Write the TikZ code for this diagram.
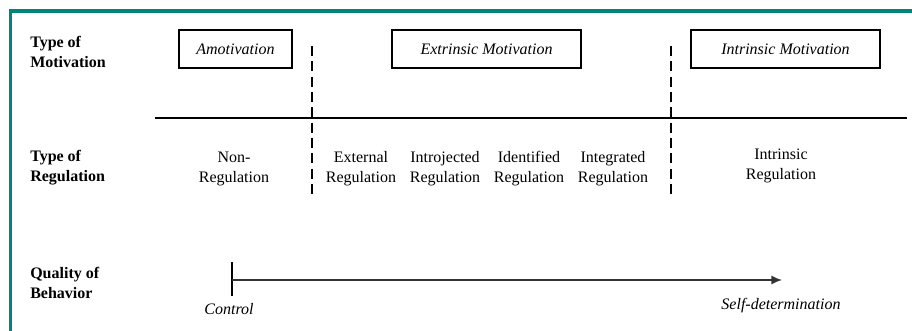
\documentclass[tikz,border=0pt]{standalone}
\usepackage{fontspec}
\setmainfont{Liberation Serif}
\usepackage{xcolor}
\usetikzlibrary{arrows.meta, positioning}

\definecolor{frameteal}{RGB}{0,133,122}

\tikzset{
  rowlabel/.style={anchor=west, align=left, inner sep=0pt, font=\fontsize{12}{15}\selectfont\bfseries},
  motivbox/.style={rectangle, draw=black, line width=1.1pt, minimum height=28.5pt, inner sep=0pt, font=\fontsize{12}{15}\selectfont\itshape},
  reglabel/.style={align=center, inner sep=0pt, font=\fontsize{12}{15}\selectfont},
  endlabel/.style={inner sep=0pt, font=\fontsize{12}{15}\selectfont\itshape},
  divider/.style={line width=1.9pt, dash pattern=on 7.5pt off 4pt},
}

\begin{document}
\begin{tikzpicture}[x=0.75pt, y=-0.75pt]

\useasboundingbox (0,0) rectangle (912,331);

% Frame
\draw[frameteal, line width=2.4pt] (10.5,331) -- (10.5,11) -- (912,11);

% Row labels
\node (motivlabel) [rowlabel] at (30,52) {Type of\\Motivation};
\node (reglabel) [rowlabel] at (30,168) {Type of\\Regulation};
\node (qualitylabel) [rowlabel] at (30,283) {Quality of\\Behavior};

% Motivation boxes
\node (amotiv) [motivbox, minimum width=84.75pt] at (235.5,49) {Amotivation};
\node (extrinsic) [motivbox, minimum width=141.75pt] at (486.5,49) {Extrinsic Motivation};
\node (intrinsic) [motivbox, minimum width=141.75pt] at (785.5,49) {Intrinsic Motivation};

% Regulation types
\node (nonreg) [reglabel] at (234,169) {Non-\\Regulation};
\node (external) [reglabel] at (361,169) {External\\Regulation};
\node (introjected) [reglabel] at (445,169) {Introjected\\Regulation};
\node (identified) [reglabel] at (529,169) {Identified\\Regulation};
\node (integrated) [reglabel] at (613,169) {Integrated\\Regulation};
\node (intrinsicreg) [reglabel] at (781,166) {Intrinsic\\Regulation};

% Axis ends
\coordinate (start) at (232,280);
\coordinate (finish) at (782,280);
\coordinate (bartop) at (232,262);
\coordinate (barbot) at (232,296);
\node (control) [endlabel] at (229,309) {Control};
\node (selfdet) [endlabel] at (781,306) {Self-determination};

% Lines
\coordinate (rulestart) at (155,118);
\coordinate (ruleend) at (907,118);
\draw[line width=1.8pt] (rulestart) -- (ruleend);

\coordinate (divonetop) at (312,46);
\coordinate (divonebot) at (312,194);
\coordinate (divtwotop) at (671,46);
\coordinate (divtwobot) at (671,194);
\draw[divider] (divonetop) -- (divonebot);
\draw[divider] (divtwotop) -- (divtwobot);

% Arrows
\draw[line width=1.6pt] (bartop) -- (barbot);
\draw[-{Latex[length=8pt, width=7pt]}, line width=1.3pt, black!80] (start) -- (finish);

\end{tikzpicture}
\end{document}
